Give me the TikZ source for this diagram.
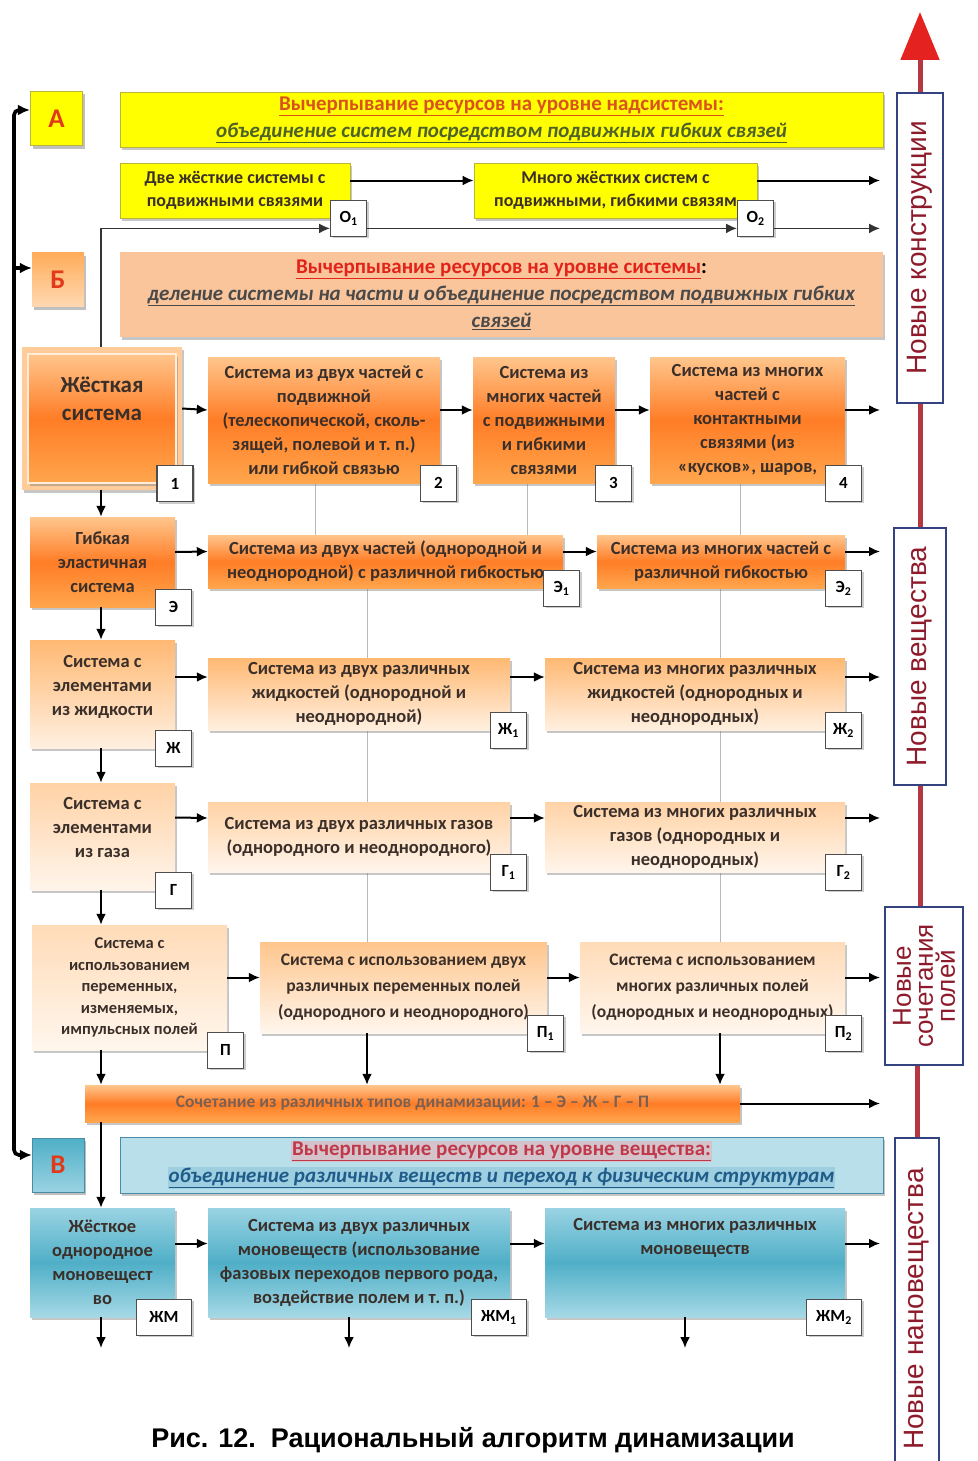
\documentclass[tikz,border=0pt]{standalone}
\usepackage{fontspec}
\setmainfont{Carlito}
\newfontfamily\capfont{Liberation Sans}
\usepackage{xcolor}
\usetikzlibrary{positioning,calc,shadows,arrows.meta}

\definecolor{yel}{HTML}{FFFF00}
\definecolor{yeledge}{HTML}{B8B43C}
\definecolor{peach}{HTML}{FAC59B}
\definecolor{ltblue}{HTML}{B9DFEA}
\definecolor{blueedge}{HTML}{4A8CA6}
\definecolor{bluetop}{HTML}{9AD3E3}
\definecolor{bluemid}{HTML}{4FAFC7}
\definecolor{bluebot}{HTML}{A6D9E6}
\definecolor{boxtext}{HTML}{3B2F2A}
\definecolor{titleor}{HTML}{D9531E}
\definecolor{titlered}{HTML}{E2231A}
\definecolor{vtitle}{HTML}{C0394B}
\definecolor{hlpink}{HTML}{D5C3CB}
\definecolor{hlblue}{HTML}{9ECFE0}
\definecolor{greenit}{HTML}{4F6228}
\definecolor{grayit}{HTML}{4A4A4A}
\definecolor{blueit}{HTML}{1F5C8A}
\definecolor{sideblue}{HTML}{34427F}
\definecolor{sidered}{HTML}{8E1B2B}
\definecolor{redln}{HTML}{B5373F}
\definecolor{arrred}{HTML}{E42320}
\definecolor{tagline}{HTML}{4D4D4D}
\definecolor{letred}{HTML}{E03A1A}
\definecolor{mixtext}{HTML}{7A6052}

\begin{document}
\begin{tikzpicture}[x=1pt,y=-1pt,
    base/.style={align=center, inner sep=2pt, text=boxtext,
        font=\bfseries\fontsize{18.5}{24}\selectfont,
        drop shadow={shadow xshift=2pt, shadow yshift=-3pt, opacity=0.45}},
    orabox/.style={base, top color=orange!45!white, bottom color=orange!70!white, middle color=orange!80!red!85!white},
    liqbox/.style={base, top color=orange!55!white, bottom color=orange!12!white},
    gasbox/.style={base, top color=orange!35!white, bottom color=orange!8!white},
    fldbox/.style={base, top color=orange!28!white, bottom color=orange!7!white},
    bluebox/.style={base, top color=bluetop, bottom color=bluebot, middle color=bluemid},
    yelbox/.style={base, fill=yel, draw=yeledge, line width=0.8pt, font=\bfseries\fontsize{18}{23}\selectfont},
    tag/.style={draw=tagline, line width=1.4pt, fill=white, minimum width=36pt, minimum height=36pt,
        inner sep=1pt, anchor=east, text=black, font=\bfseries\fontsize{17}{17}\selectfont,
        drop shadow={shadow xshift=2pt, shadow yshift=-2pt, opacity=0.4}},
    lbl/.style={minimum width=52pt, minimum height=54pt, text=letred, font=\bfseries\fontsize{27}{27}\selectfont,
        drop shadow={shadow xshift=2pt, shadow yshift=-3pt, opacity=0.5}},
    banner/.style={minimum width=763pt, align=center, inner sep=2pt, font=\bfseries\fontsize{21}{27}\selectfont,
        drop shadow={shadow xshift=2pt, shadow yshift=-3pt, opacity=0.45}},
    side/.style={draw=sideblue, line width=2.6pt, fill=white, rotate=90, align=center, inner sep=0pt,
        text=sidered, font=\capfont\fontsize{28}{28}\selectfont},
    arr/.style={line width=2pt, -{Latex[length=11pt,width=10pt]}},
    gline/.style={gray!55, line width=1pt},
    spine/.style={line width=3.6pt, rounded corners=5pt},
    redline/.style={draw=redln, line width=5pt}]

\useasboundingbox (0,0) rectangle (977,1461);

% right-hand scale
\node[side, minimum width=310pt, minimum height=46pt] (conb) at (920,248) {Новые конструкции};
\node[side, minimum width=257pt, minimum height=52pt] (subst) at (920,656.5) {Новые вещества};
\node[side, minimum width=158pt, minimum height=78pt, font=\capfont\fontsize{26}{22}\selectfont] (fields) at (924,986) {Новые\\сочетания\\полей};
\node[side, minimum width=342pt, minimum height=44pt] (nano) at (917,1309) {Новые нановещества};
\coordinate (tip) at (920,12);
\draw[redline, -{Triangle[length=48pt,width=38pt,color=arrred]}] (conb.east) -- (tip);
\draw[redline] (conb.west) -- (subst.east);
\draw[redline] (subst.west) -- (subst.west |- fields.east);
\draw[redline] (nano.east |- fields.west) -- (nano.east);

% level A
\node[lbl, fill=yel, draw=yeledge, line width=1.2pt] (lA) at (56.5,118.5) {А};
\node[banner, fill=yel, draw=yeledge, minimum height=55pt] (bA) at (501.5,119.5)
    {\textcolor{titleor}{\underline{Вычерпывание ресурсов на уровне надсистемы:}}\\
     \textcolor{greenit}{\textit{\underline{объединение систем посредством подвижных гибких связей}}}};
\node[yelbox, minimum width=230pt, minimum height=55pt] (o1) at (235,190.5) {Две жёсткие системы с\\подвижными связями};
\node[yelbox, minimum width=283pt, minimum height=55pt] (o2) at (615.5,190.5) {Много жёстких систем с\\подвижными, гибкими связям};
\node[tag] (to1) at ([xshift=17pt]o1.south east) {О\textsubscript{1}};
\node[tag] (to2) at ([xshift=17pt]o2.south east) {О\textsubscript{2}};

% level B
\node[lbl, top color=orange!65!white, bottom color=orange!30!white] (lB) at (58,279.5) {Б};
\node[banner, fill=peach, minimum height=85pt] (bB) at (501.5,294.5)
    {\textcolor{titlered}{\underline{Вычерпывание ресурсов на уровне системы}}:\\
     \textcolor{grayit}{\textit{\underline{деление системы на части и объединение посредством подвижных гибких}}}\\
     \textcolor{grayit}{\textit{\underline{связей}}}};

% level V
\node[lbl, top color=bluemid, bottom color=bluetop, draw=blueedge] (lV) at (58,1165) {В};
\node[banner, fill=ltblue, draw=blueedge, minimum height=56pt] (bV) at (501.5,1165)
    {{\fboxsep=1pt\colorbox{hlpink}{\textcolor{vtitle}{\underline{Вычерпывание ресурсов на уровне вещества:}}}}\\
     {\fboxsep=1pt\colorbox{hlblue}{\textcolor{blueit}{\textit{\underline{объединение различных веществ и переход к физическим структурам}}}}}};

% left spine
\coordinate (spx) at (14,600);
\coordinate (aIn) at ([yshift=8.5pt]lA.west);
\coordinate (bIn) at ([yshift=11.5pt]lB.west);
\coordinate (vIn) at ([yshift=10pt]lV.west);
\draw[spine, {Latex[length=12pt,width=11pt]}-{Latex[length=12pt,width=11pt]}] (aIn) -| (spx) |- (vIn);
\draw[spine, -{Latex[length=12pt,width=11pt]}] (spx |- bIn) -- (bIn);

% column and gray guide positions
\coordinate (colx) at (101,0);
\coordinate (endx) at (880,0);
\coordinate (gA) at (315,0);
\coordinate (gB) at (527,0);
\coordinate (gC) at (740,0);
\coordinate (c1x) at (367,0);
\coordinate (c2x) at (720,0);
\coordinate (bot) at (0,1348);

% gray guides (behind boxes)
\draw[gline] (gA |- 0,483) -- (gA |- 0,535);
\draw[gline] (gB |- 0,483) -- (gB |- 0,535);
\draw[gline] (gC |- 0,483) -- (gC |- 0,535);
\draw[gline] (c1x |- 0,588) -- (c1x |- 0,942);
\draw[gline] (c2x |- 0,588) -- (c2x |- 0,942);

% row 1
\node[base, fill=orange!40!white, minimum width=160pt, minimum height=143pt] (rigidfr) at (102,418.5) {};
\node[orabox, draw=orange!15!white, line width=1.5pt, drop shadow={opacity=0}, minimum width=148pt, minimum height=129pt,
    font=\bfseries\fontsize{23}{28}\selectfont, text depth=40pt] (rigid) at (102,418.5) {Жёсткая\\система};
\node[orabox, minimum width=232pt, minimum height=126pt] (two) at (324,420)
    {Система из двух частей с\\подвижной\\(телескопической, сколь-\\зящей, полевой и т.~п.)\\или гибкой связью};
\node[orabox, minimum width=142pt, minimum height=126pt] (many) at (544,420)
    {Система из\\многих частей\\с подвижными\\и гибкими\\связями};
\node[orabox, minimum width=195pt, minimum height=126pt] (contact) at (747.5,420)
    {Система из многих\\частей с\\контактными\\связями (из\\«кусков», шаров,};
\node[tag] (t1) at ([xshift=17pt]rigid.south east) {1};
\node[tag] (t2) at ([xshift=17pt]two.south east) {2};
\node[tag] (t3) at ([xshift=17pt]many.south east) {3};
\node[tag] (t4) at ([xshift=17pt]contact.south east) {4};

% row E
\node[orabox, minimum width=145pt, minimum height=90pt] (flex) at (102.5,562) {Гибкая\\эластичная\\система};
\node[orabox, minimum width=355pt, minimum height=53pt] (e1) at (385.5,561.5)
    {Система из двух частей (однородной и\\неоднородной) с различной гибкостью};
\node[orabox, minimum width=248pt, minimum height=53pt] (e2) at (721,561.5)
    {Система из многих частей с\\различной гибкостью};
\node[tag] (tE) at ([xshift=17pt]flex.south east) {Э};
\node[tag] (tE1) at ([xshift=17pt]e1.south east) {Э\textsubscript{1}};
\node[tag] (tE2) at ([xshift=17pt]e2.south east) {Э\textsubscript{2}};

% row Zh
\node[liqbox, minimum width=145pt, minimum height=108pt, text depth=18pt] (liq) at (102.5,694) {Система с\\элементами\\из жидкости};
\node[liqbox, minimum width=302pt, minimum height=72pt] (l1) at (359,694)
    {Система из двух различных\\жидкостей (однородной и\\неоднородной)};
\node[liqbox, minimum width=300pt, minimum height=72pt] (l2) at (695,694)
    {Система из многих различных\\жидкостей (однородных и\\неоднородных)};
\node[tag] (tZh) at ([xshift=17pt]liq.south east) {Ж};
\node[tag] (tZh1) at ([xshift=17pt]l1.south east) {Ж\textsubscript{1}};
\node[tag] (tZh2) at ([xshift=17pt]l2.south east) {Ж\textsubscript{2}};

% row G
\node[gasbox, minimum width=145pt, minimum height=107pt, text depth=18pt] (gas) at (102.5,836.5) {Система с\\элементами\\из газа};
\node[gasbox, minimum width=302pt, minimum height=70pt] (g1) at (359,837)
    {Система из двух различных газов\\(однородного и неоднородного)};
\node[gasbox, minimum width=300pt, minimum height=70pt] (g2) at (695,837)
    {Система из многих различных\\газов (однородных и\\неоднородных)};
\node[tag] (tG) at ([xshift=17pt]gas.south east) {Г};
\node[tag] (tG1) at ([xshift=17pt]g1.south east) {Г\textsubscript{1}};
\node[tag] (tG2) at ([xshift=17pt]g2.south east) {Г\textsubscript{2}};

% row P
\node[fldbox, minimum width=195pt, minimum height=125pt, font=\bfseries\fontsize{16.5}{21.5}\selectfont] (fld) at (129.5,987.5)
    {Система с\\использованием\\переменных,\\изменяемых,\\импульсных полей};
\node[fldbox, top color=orange!45!white, minimum width=287pt, minimum height=91pt, font=\bfseries\fontsize{17.5}{26}\selectfont] (f1) at (403.5,987.5)
    {Система с использованием двух\\различных переменных полей\\(однородного и неоднородного)};
\node[fldbox, minimum width=265pt, minimum height=91pt, font=\bfseries\fontsize{17.5}{26}\selectfont] (f2) at (712.5,987.5)
    {Система с использованием\\многих различных полей\\(однородных и неоднородных)};
\node[tag] (tP) at ([xshift=17pt]fld.south east) {П};
\node[tag] (tP1) at ([xshift=17pt]f1.south east) {П\textsubscript{1}};
\node[tag] (tP2) at ([xshift=17pt]f2.south east) {П\textsubscript{2}};

% combination bar
\node[orabox, minimum width=655pt, minimum height=37pt, text=mixtext, font=\bfseries\fontsize{17.5}{20}\selectfont] (mix) at (412.5,1103.5)
    {Сочетание из различных типов динамизации: 1 -- Э -- Ж -- Г -- П};

% row ZhM
\node[bluebox, minimum width=145pt, minimum height=109pt] (mono) at (102.5,1262.5) {Жёсткое\\однородное\\моновещест\\во};
\node[bluebox, minimum width=302pt, minimum height=109pt] (m1) at (359,1262.5)
    {Система из двух различных\\моновеществ (использование\\фазовых переходов первого рода,\\воздействие полем и т.~п.)};
\node[bluebox, minimum width=300pt, minimum height=109pt, text depth=52pt] (m2) at (695,1262.5)
    {Система из многих различных\\моновеществ};
\node[tag, minimum width=55pt] (tM) at ([xshift=17pt]mono.south east) {ЖМ};
\node[tag, minimum width=55pt] (tM1) at ([xshift=17pt]m1.south east) {ЖМ\textsubscript{1}};
\node[tag, minimum width=55pt] (tM2) at ([xshift=17pt]m2.south east) {ЖМ\textsubscript{2}};

% connectors, level A
\draw[arr] ([yshift=10pt]o1.east) -- ([yshift=10pt]o2.west);
\draw[arr] ([yshift=10pt]o2.east) -- ([yshift=10pt]o2.east -| endx);
\draw[arr, line width=1.6pt, black!80] (rigidfr.north -| colx) |- ([yshift=-10pt]to1.west);
\draw[arr, line width=1.6pt, black!80] ([yshift=-10pt]to1.east) -- ([yshift=-10pt]to2.west);
\draw[arr, line width=1.6pt, black!80] ([yshift=-10pt]to2.east) -- ([yshift=-10pt]to2.east -| endx);

% connectors along the rows
\draw[arr] ([yshift=10pt]rigidfr.east) -- ([yshift=10pt]two.west);
\draw[arr] ([yshift=10pt]two.east) -- ([yshift=10pt]many.west);
\draw[arr] ([yshift=10pt]many.east) -- ([yshift=10pt]contact.west);
\draw[arr] ([yshift=10pt]contact.east) -- ([yshift=10pt]contact.east -| endx);
\draw[arr] ([yshift=10pt]flex.east) -- ([yshift=10pt]e1.west);
\draw[arr] ([yshift=10pt]e1.east) -- ([yshift=10pt]e2.west);
\draw[arr] ([yshift=10pt]e2.east) -- ([yshift=10pt]e2.east -| endx);
\draw[arr] ([yshift=17pt]liq.east) -- ([yshift=17pt]l1.west);
\draw[arr] ([yshift=17pt]l1.east) -- ([yshift=17pt]l2.west);
\draw[arr] ([yshift=17pt]l2.east) -- ([yshift=17pt]l2.east -| endx);
\draw[arr] ([yshift=19pt]gas.east) -- ([yshift=19pt]g1.west);
\draw[arr] ([yshift=19pt]g1.east) -- ([yshift=19pt]g2.west);
\draw[arr] ([yshift=19pt]g2.east) -- ([yshift=19pt]g2.east -| endx);
\draw[arr] ([yshift=10pt]fld.east) -- ([yshift=10pt]f1.west);
\draw[arr] ([yshift=10pt]f1.east) -- ([yshift=10pt]f2.west);
\draw[arr] ([yshift=10pt]f2.east) -- ([yshift=10pt]f2.east -| endx);
\draw[arr] (mix.east) -- (mix.east -| endx);
\draw[arr] ([yshift=19pt]mono.east) -- ([yshift=19pt]m1.west);
\draw[arr] ([yshift=19pt]m1.east) -- ([yshift=19pt]m2.west);
\draw[arr] ([yshift=19pt]m2.east) -- ([yshift=19pt]m2.east -| endx);

% connectors down the left column
\draw[arr] (rigidfr.south -| colx) -- (flex.north -| colx);
\draw[arr] (flex.south -| colx) -- (liq.north -| colx);
\draw[arr] (liq.south -| colx) -- (gas.north -| colx);
\draw[arr] (gas.south -| colx) -- (fld.north -| colx);
\draw[arr] (fld.south -| colx) -- (mix.north -| colx);
\draw[arr] (f1.south -| c1x) -- (mix.north -| c1x);
\draw[arr] (f2.south -| c2x) -- (mix.north -| c2x);
\draw[arr] (mix.south -| colx) -- (mono.north -| colx);
\draw[arr] (mono.south -| colx) -- (colx |- bot);
\draw[arr] ([xshift=-10pt]m1.south) -- ([xshift=-10pt]m1.south |- bot);
\draw[arr] ([xshift=-10pt]m2.south) -- ([xshift=-10pt]m2.south |- bot);

% caption
\node[font=\capfont\bfseries\fontsize{27}{27}\selectfont] (cap) at (473,1440) {Рис. 12.\ \ Рациональный алгоритм динамизации};
\end{tikzpicture}
\end{document}
